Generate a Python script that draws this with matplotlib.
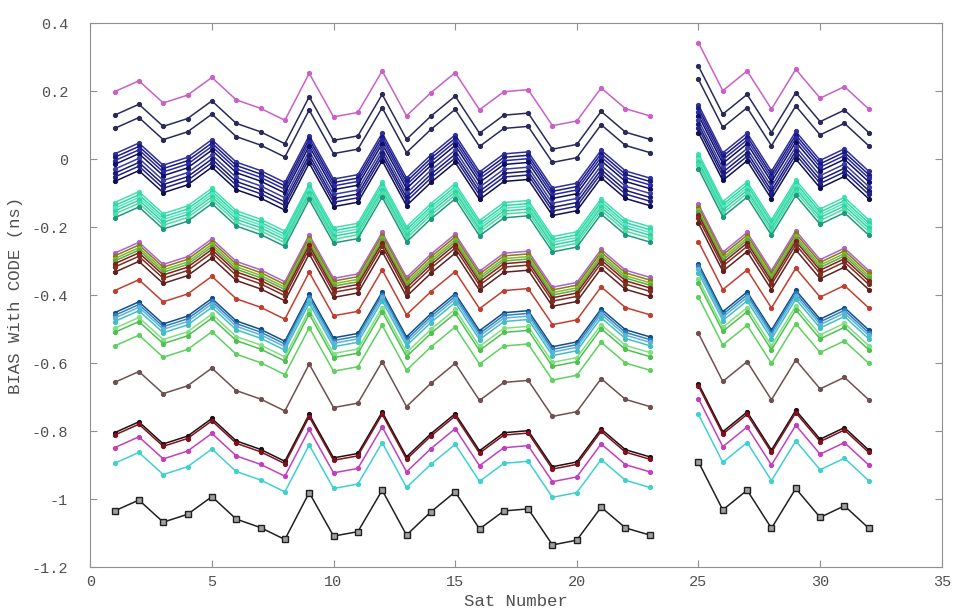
import numpy as np
import matplotlib.pyplot as plt

plt.rcParams['font.family'] = ['Liberation Mono', 'DejaVu Sans Mono']
plt.rcParams['axes.unicode_minus'] = False

# satellites (PRN 24 not tracked)
sats = [1, 2, 3, 4, 5, 6, 7, 8, 9, 10, 11, 12, 13, 14, 15, 16, 17, 18, 19, 20, 21, 22, 23,
        25, 26, 27, 28, 29, 30, 31, 32]

# reference channel bias (ns), drawn with squares
ref_bias = [-1.035, -1.003, -1.068, -1.045, -0.993, -1.059, -1.084, -1.119, -0.981, -1.109,
            -1.096, -0.974, -1.106, -1.038, -0.979, -1.088, -1.035, -1.029, -1.135, -1.121,
            -1.024, -1.085, -1.106,
            -0.891, -1.032, -0.974, -1.086, -0.969, -1.054, -1.020, -1.086]

# bias of the other channels at sat 1 (ns); they follow the reference channel
levels = [0.198, 0.129, 0.090,
          0.015, 0.005, -0.005, -0.016, -0.030, -0.042, -0.053, -0.066,
          -0.128, -0.137, -0.145, -0.153, -0.162, -0.173,
          -0.277, -0.285, -0.293, -0.300, -0.308, -0.318, -0.333,
          -0.387,
          -0.452, -0.460, -0.468, -0.478,
          -0.498, -0.510, -0.550,
          -0.657,
          -0.805, -0.812, -0.849, -0.895]

colors = ['#c860c8', '#2a2a5a', '#2a2a5a',
          '#3030a0', '#1c1c7c', '#2828a8', '#101060', '#3a3aa8', '#1a1a70', '#202088', '#101050',
          '#40e0b0', '#30d8a0', '#50e8c0', '#38d0a8', '#48e0a0', '#209880',
          '#b060d0', '#808010', '#90b030', '#50b040', '#8b1a1a', '#7a3020', '#602020',
          '#c04030',
          '#10508a', '#3080c0', '#60b0e0', '#40c0c0',
          '#80e080', '#50c050', '#60d060',
          '#705050',
          '#201010', '#801020', '#c040c0', '#40d0d0']

x = np.array(sats)
ref = np.array(ref_bias)
# split into contiguous runs so the gap at PRN 24 stays open
runs = np.split(np.arange(len(x)), np.where(np.diff(x) > 1)[0] + 1)

fig = plt.figure(figsize=(9.6, 6.14), dpi=100)
ax = fig.add_axes([0.094, 0.0765, 0.887, 0.886])

for lvl, c in zip(levels, colors):
    y = ref - ref[0] + lvl
    for r in runs:
        ax.plot(x[r], y[r], '-', color=c, lw=1.1, marker='.', ms=5.5)

for r in runs:
    ax.plot(x[r], ref[r], '-', color='#202020', lw=1.1, marker='s', ms=4,
            mfc='#a0a0a0', mec='#202020')

ax.set_xlim(0, 35)
ax.set_ylim(-1.2, 0.4)
ax.set_xticks(range(0, 36, 5))
yt = [-1.2, -1.0, -0.8, -0.6, -0.4, -0.2, 0.0, 0.2, 0.4]
ax.set_yticks(yt)
ax.set_yticklabels(['-1.2', '-1', '-0.8', '-0.6', '-0.4', '-0.2', '0', '0.2', '0.4'])
ax.tick_params(direction='in', top=True, right=True, length=5, color='#909090',
               labelcolor='#505050', labelsize=11)
ax.tick_params(axis='y', pad=16)
ax.tick_params(axis='x', pad=6)
for s in ax.spines.values():
    s.set_color('#909090')
    s.set_linewidth(0.8)
ax.set_xlabel('Sat Number', fontsize=12.5, color='#505050', labelpad=3)
ax.set_ylabel('BIAS With CODE (ns)', fontsize=12.5, color='#505050', labelpad=6)

fig.savefig('out.png', dpi=100)
